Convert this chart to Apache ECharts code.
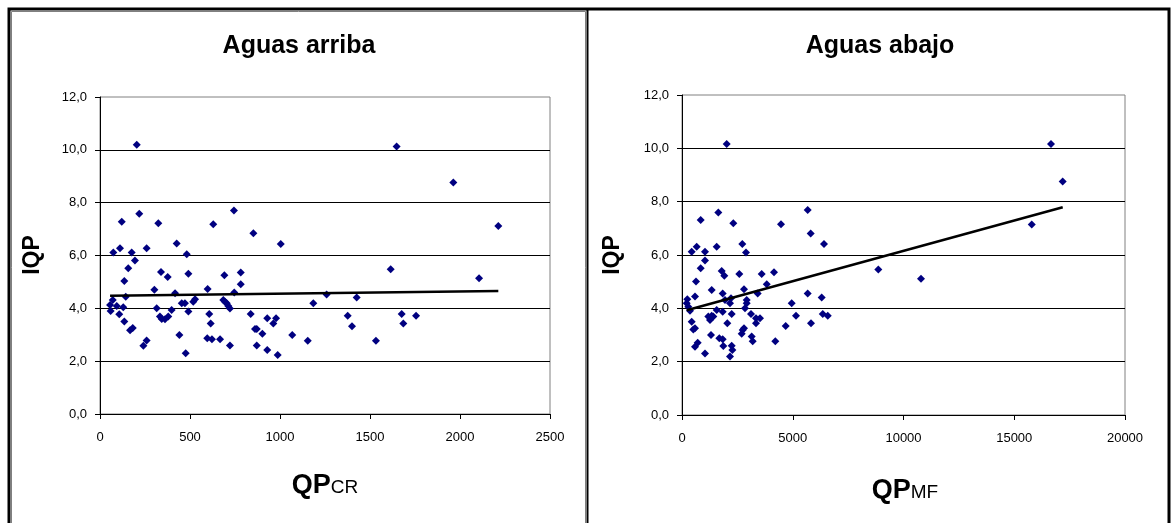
<!DOCTYPE html>
<html>
<head>
<meta charset="utf-8">
<script src="https://cdn.jsdelivr.net/npm/echarts@6/dist/echarts.min.js"></script>
<style>
html,body{margin:0;padding:0;background:#fff;}
#c{width:1173px;height:523px;}
</style>
</head>
<body>
<div id="c"></div>
<script>
// ---- Data ----
const titles = ['Aguas arriba', 'Aguas abajo'];
const yName = 'IQP';
const yTicks = [0, 2, 4, 6, 8, 10, 12];
const xTicksUp = [0, 500, 1000, 1500, 2000, 2500];
const xTicksDown = [0, 5000, 10000, 15000, 20000];

// Aguas arriba: QP_CR vs IQP
const upX = [204,218,121,324,744,629,852,1004,426,74,111,176,259,482,194,157,135,339,376,491,691,782,782,302,417,598,746,143,71,56,93,129,59,107,135,182,167,241,259,315,333,343,361,379,398,454,472,491,518,528,441,476,607,615,596,622,667,722,685,694,704,713,722,837,861,871,902,871,929,978,963,929,987,1068,1154,1185,1259,1648,1963,2213,1615,2106,1426,1376,1400,1533,1676,1685,1756];
const upY = [10.19,7.58,7.28,7.22,7.70,7.18,6.84,6.44,6.45,6.11,6.27,6.11,6.27,6.05,5.81,5.52,5.03,5.38,5.19,5.31,5.25,5.36,4.91,4.70,4.57,4.73,4.60,4.44,4.32,4.13,4.09,4.04,3.90,3.78,3.50,3.26,3.17,2.58,2.78,4.00,3.69,3.60,3.59,3.69,3.94,4.19,4.19,3.88,4.25,4.34,2.99,2.30,3.79,3.43,2.87,2.83,2.83,2.59,4.32,4.25,4.19,4.09,3.99,3.79,3.22,3.22,3.04,2.59,3.62,3.62,3.43,2.42,2.23,2.99,2.77,4.19,4.52,10.13,8.76,7.12,5.48,5.14,4.41,3.72,3.32,2.77,3.79,3.43,3.72];
const trendUpX = [56, 2213];
const trendUpY = [4.48, 4.66];

// Aguas abajo: QP_MF vs IQP
const downX = [2017,1640,843,2318,5674,4470,5810,6411,2724,436,662,1038,1565,2890,1038,843,632,1791,1911,2588,3599,4154,3825,1340,2799,3418,1837,587,5674,6306,4952,240,212,285,361,436,512,587,587,707,1038,1309,1189,1264,1340,1415,1565,1837,2047,2243,2167,2212,1941,1685,1837,1865,2243,2273,2167,2739,2799,2694,3147,3192,2844,2920,2920,3115,3341,3522,3341,4213,4682,5147,5825,6353,6579,8863,10791,15789,16660,17188];
const downY = [10.16,7.59,7.31,7.19,7.69,7.15,6.81,6.41,6.41,6.12,6.31,6.12,6.31,6.09,5.79,5.50,5.01,5.40,5.22,5.29,5.29,5.35,4.90,4.69,4.72,4.56,4.56,4.44,4.56,4.41,4.19,4.34,4.19,4.06,3.91,3.50,3.21,3.25,2.56,2.71,2.31,3.00,3.69,3.56,3.72,3.69,3.94,3.87,3.44,3.79,4.19,4.38,4.31,2.88,2.84,2.59,2.60,2.44,2.19,3.19,3.25,3.05,2.94,2.77,4.00,4.19,4.31,3.79,3.63,3.63,3.44,2.77,3.34,3.72,3.44,3.79,3.72,5.46,5.11,7.14,10.16,8.76];
const trendDownX = [212, 17188];
const trendDownY = [3.93, 7.79];

// ---- Build ----
const zip = (xs, ys) => xs.map((x, i) => [x, ys[i]]);
const FONT = '"Liberation Sans", Arial, sans-serif';
const fmtY = v => v.toFixed(1).replace('.', ',');
const fmtX = v => String(v);

function yAxisCfg(gi) {
  return {
    type: 'value', gridIndex: gi, min: yTicks[0], max: yTicks[yTicks.length - 1], interval: 2,
    axisLine: { show: true, lineStyle: { color: '#000', width: 1 } },
    axisTick: { show: true, inside: false, length: 5, lineStyle: { color: '#000' } },
    axisLabel: { formatter: fmtY, color: '#000', fontFamily: FONT, fontSize: 13, margin: 13 },
    splitLine: { show: true, showMaxLine: false, lineStyle: { color: '#000', width: 1 } }
  };
}
function xAxisCfg(gi, ticks) {
  return {
    type: 'value', gridIndex: gi, min: ticks[0], max: ticks[ticks.length - 1], interval: ticks[1] - ticks[0],
    axisLine: { show: true, onZero: false, lineStyle: { color: '#000', width: 1 } },
    axisTick: { show: true, inside: false, length: 5, lineStyle: { color: '#000' } },
    axisLabel: { formatter: fmtX, color: '#000', fontFamily: FONT, fontSize: 13, margin: 17 },
    splitLine: { show: false }
  };
}

const chart = echarts.init(document.getElementById('c'), null, { renderer: 'canvas' });
const rich = {
  a: { fontFamily: FONT, fontSize: 27, fontWeight: 'bold', fill: '#000', color: '#000' },
  b: { fontFamily: FONT, fontSize: 19, fontWeight: 'normal', fill: '#000', color: '#000', verticalAlign: 'bottom', padding: [0, 0, 2, 0] }
};
const markerStyle = { color: '#000080', opacity: 1 };
chart.setOption({
  animation: false,
  backgroundColor: '#fff',
  grid: [
    { left: 100, top: 97, width: 450, height: 317, show: true, borderColor: '#808080', borderWidth: 1, backgroundColor: 'transparent' },
    { left: 682, top: 95, width: 443, height: 320, show: true, borderColor: '#808080', borderWidth: 1, backgroundColor: 'transparent' }
  ],
  xAxis: [xAxisCfg(0, xTicksUp), xAxisCfg(1, xTicksDown)],
  yAxis: [yAxisCfg(0), yAxisCfg(1)],
  series: [
    { type: 'scatter', xAxisIndex: 0, yAxisIndex: 0, symbol: 'diamond', symbolSize: 8, itemStyle: markerStyle, data: zip(upX, upY) },
    { type: 'line', xAxisIndex: 0, yAxisIndex: 0, showSymbol: false, symbol: 'none', z: 5, lineStyle: { color: '#000', width: 2.5 }, data: zip(trendUpX, trendUpY) },
    { type: 'scatter', xAxisIndex: 1, yAxisIndex: 1, symbol: 'diamond', symbolSize: 8, itemStyle: markerStyle, data: zip(downX, downY) },
    { type: 'line', xAxisIndex: 1, yAxisIndex: 1, showSymbol: false, symbol: 'none', z: 5, lineStyle: { color: '#000', width: 2.5 }, data: zip(trendDownX, trendDownY) }
  ],
  graphic: [
    // panel frames
    { type: 'rect', shape: { x: 9, y: 9, width: 1160, height: 520 }, style: { fill: 'none', stroke: '#000', lineWidth: 3 }, silent: true },
    { type: 'polyline', shape: { points: [[11.5, 530], [11.5, 11.5], [585.5, 11.5], [585.5, 530]] }, style: { fill: 'none', stroke: '#808080', lineWidth: 1 }, silent: true },
    { type: 'line', shape: { x1: 587.5, y1: 9, x2: 587.5, y2: 523 }, style: { stroke: '#000', lineWidth: 2 }, silent: true },
    // titles
    { type: 'text', x: 299, y: 46, style: { text: titles[0], font: 'bold 25px ' + FONT, fill: '#000', align: 'center', verticalAlign: 'middle' } },
    { type: 'text', x: 880, y: 46, style: { text: titles[1], font: 'bold 25px ' + FONT, fill: '#000', align: 'center', verticalAlign: 'middle' } },
    // y axis names
    { type: 'text', x: 33, y: 255, rotation: Math.PI / 2, style: { text: yName, font: 'bold 23px ' + FONT, fill: '#000', align: 'center', verticalAlign: 'middle' } },
    { type: 'text', x: 613, y: 255, rotation: Math.PI / 2, style: { text: yName, font: 'bold 23px ' + FONT, fill: '#000', align: 'center', verticalAlign: 'middle' } },
    // x axis names
    { type: 'text', x: 325, y: 486, style: { text: '{a|QP}{b|CR}', rich: rich, align: 'center', verticalAlign: 'middle' } },
    { type: 'text', x: 905, y: 491, style: { text: '{a|QP}{b|MF}', rich: rich, align: 'center', verticalAlign: 'middle' } }
  ]
});
</script>
</body>
</html>
